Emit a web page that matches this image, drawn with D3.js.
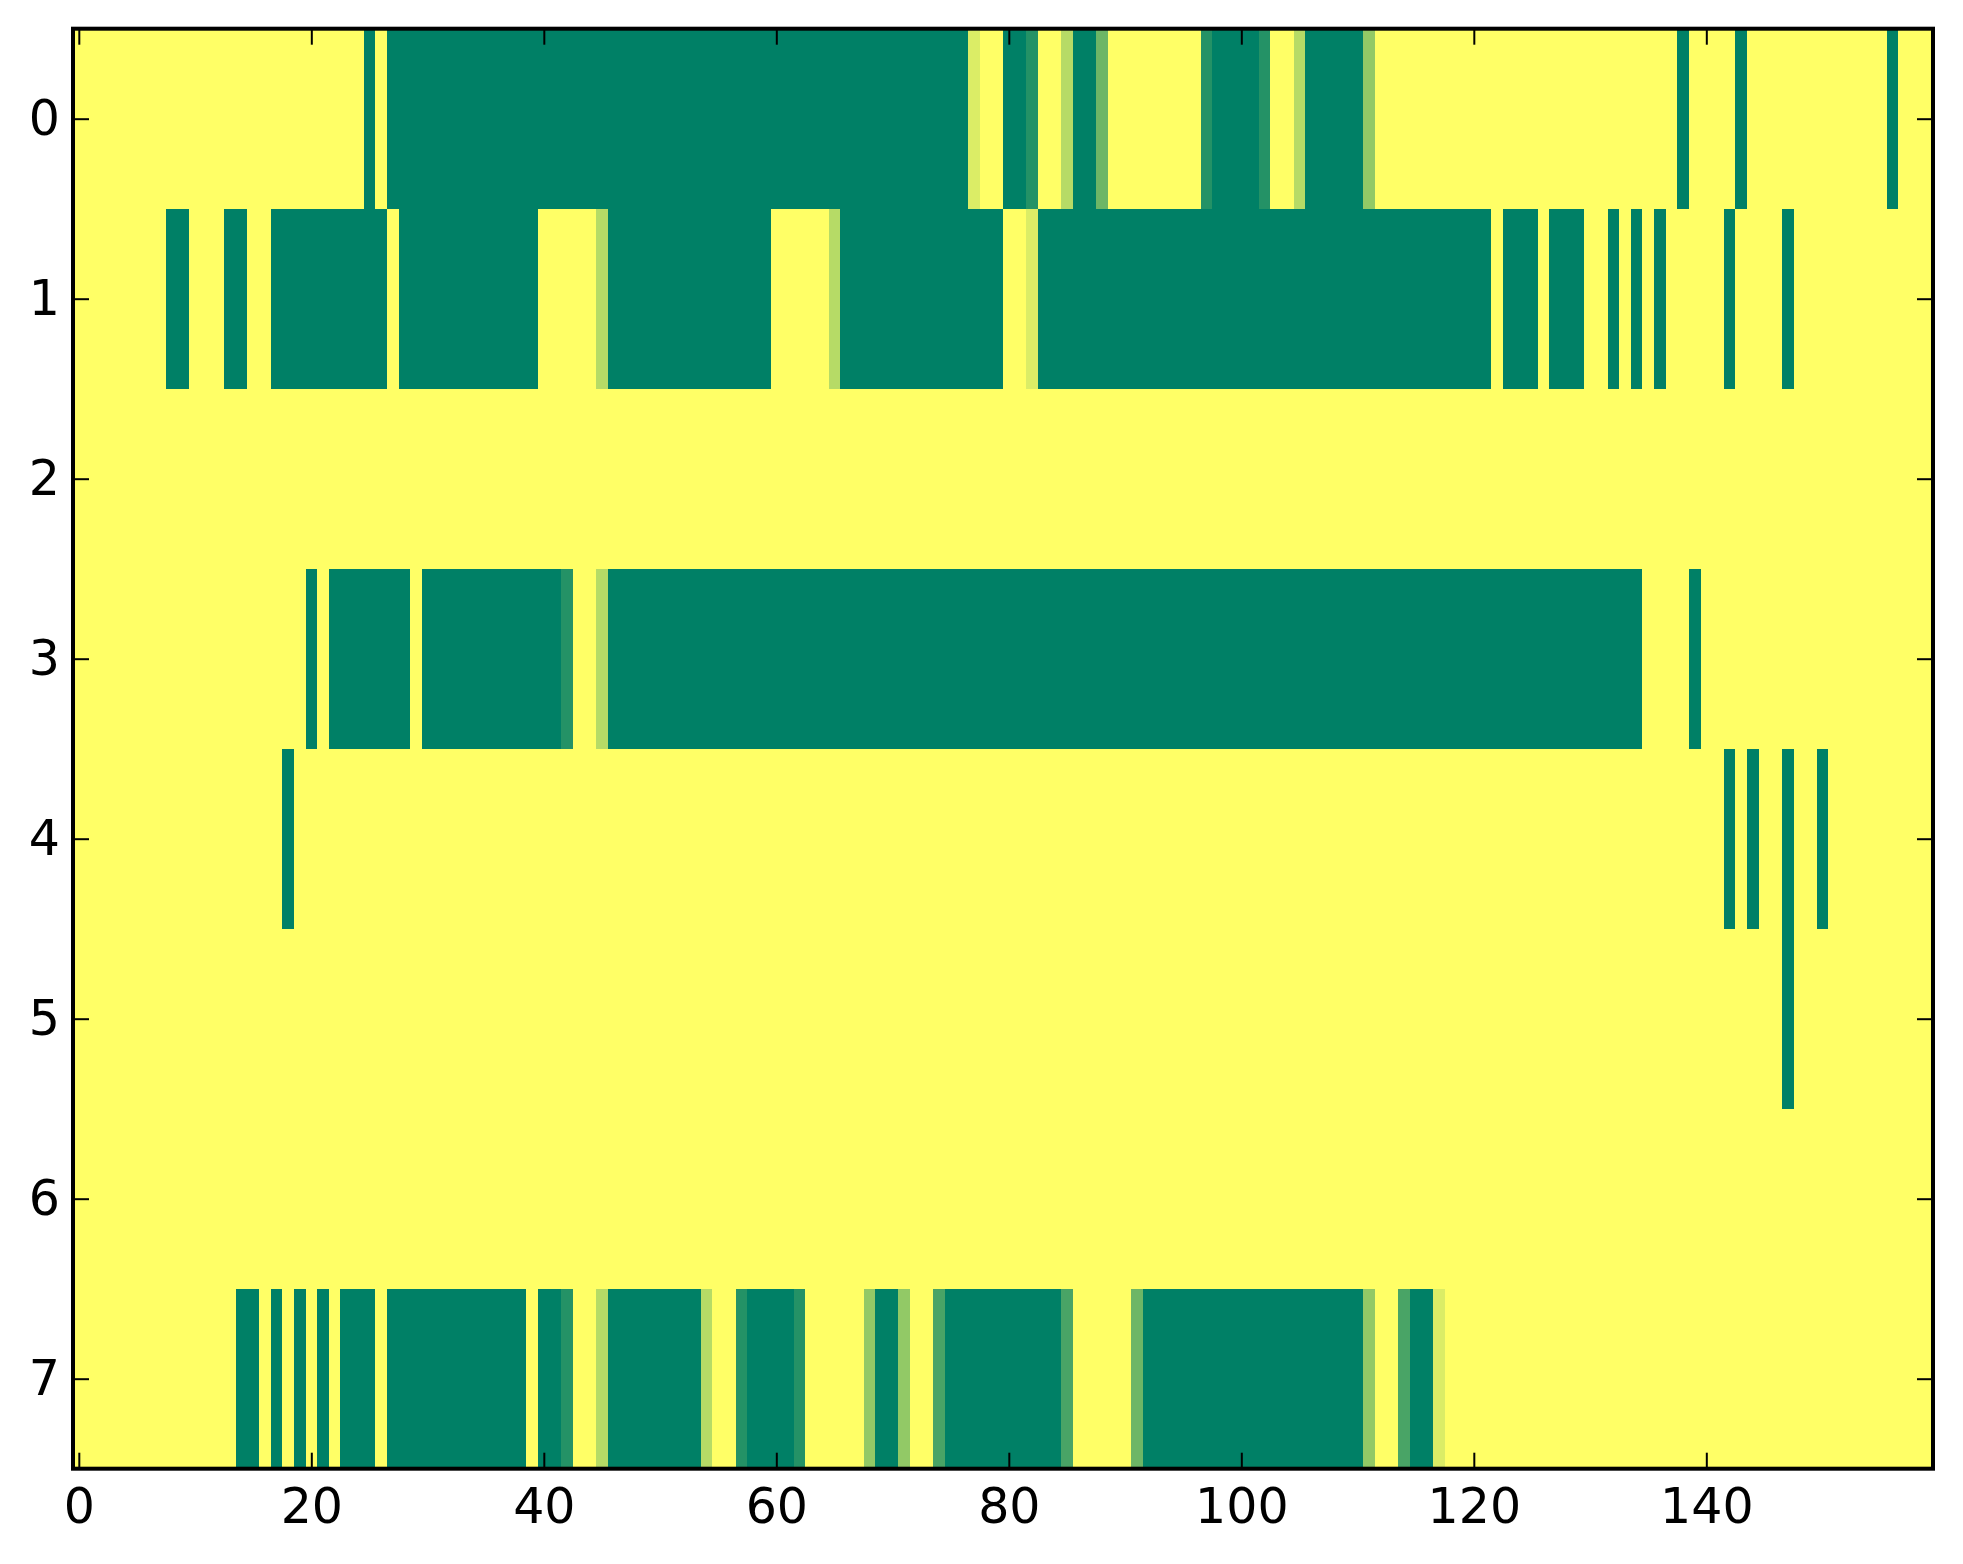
<!DOCTYPE html>
<html>
<head>
<meta charset="utf-8">
<script src="https://cdn.jsdelivr.net/npm/d3@7"></script>
<style>
  body { margin: 0; background: #fff; }
  svg { display: block; }
  .tick text { font-family: "DejaVu Sans", sans-serif; font-size: 49px; fill: #000; }
  .tick line { stroke: #000; stroke-width: 2; }
</style>
</head>
<body>
<div id="chart"></div>
<script>
// cell levels 0..7 (0 = low / green, 7 = high / yellow), one array per row, 160 columns
var row0 = [
  7,7,7,7,7,7,7,7,7,7,7,7,7,7,7,7,7,7,7,7,
  7,7,7,7,7,0,7,0,0,0,0,0,0,0,0,0,0,0,0,0,
  0,0,0,0,0,0,0,0,0,0,0,0,0,0,0,0,0,0,0,0,
  0,0,0,0,0,0,0,0,0,0,0,0,0,0,0,0,0,6,7,7,
  0,0,1,7,7,5,0,0,3,7,7,7,7,7,7,7,7,1,0,0,
  0,0,1,7,7,5,0,0,0,0,0,4,7,7,7,7,7,7,7,7,
  7,7,7,7,7,7,7,7,7,7,7,7,7,7,7,7,7,7,0,7,
  7,7,7,0,7,7,7,7,7,7,7,7,7,7,7,7,0,7,7,7
];
var row1 = [
  7,7,7,7,7,7,7,7,0,0,7,7,7,0,0,7,7,0,0,0,
  0,0,0,0,0,0,0,7,0,0,0,0,0,0,0,0,0,0,0,0,
  7,7,7,7,7,5,0,0,0,0,0,0,0,0,0,0,0,0,0,0,
  7,7,7,7,7,5,0,0,0,0,0,0,0,0,0,0,0,0,0,0,
  7,7,6,0,0,0,0,0,0,0,0,0,0,0,0,0,0,0,0,0,
  0,0,0,0,0,0,0,0,0,0,0,0,0,0,0,0,0,0,0,0,
  0,0,7,0,0,0,7,0,0,0,7,7,0,7,0,7,0,7,7,7,
  7,7,0,7,7,7,7,0,7,7,7,7,7,7,7,7,7,7,7,7
];
var row2 = [
  7,7,7,7,7,7,7,7,7,7,7,7,7,7,7,7,7,7,7,7,
  7,7,7,7,7,7,7,7,7,7,7,7,7,7,7,7,7,7,7,7,
  7,7,7,7,7,7,7,7,7,7,7,7,7,7,7,7,7,7,7,7,
  7,7,7,7,7,7,7,7,7,7,7,7,7,7,7,7,7,7,7,7,
  7,7,7,7,7,7,7,7,7,7,7,7,7,7,7,7,7,7,7,7,
  7,7,7,7,7,7,7,7,7,7,7,7,7,7,7,7,7,7,7,7,
  7,7,7,7,7,7,7,7,7,7,7,7,7,7,7,7,7,7,7,7,
  7,7,7,7,7,7,7,7,7,7,7,7,7,7,7,7,7,7,7,7
];
var row3 = [
  7,7,7,7,7,7,7,7,7,7,7,7,7,7,7,7,7,7,7,7,
  0,7,0,0,0,0,0,0,0,7,0,0,0,0,0,0,0,0,0,0,
  0,0,1,7,7,5,0,0,0,0,0,0,0,0,0,0,0,0,0,0,
  0,0,0,0,0,0,0,0,0,0,0,0,0,0,0,0,0,0,0,0,
  0,0,0,0,0,0,0,0,0,0,0,0,0,0,0,0,0,0,0,0,
  0,0,0,0,0,0,0,0,0,0,0,0,0,0,0,0,0,0,0,0,
  0,0,0,0,0,0,0,0,0,0,0,0,0,0,0,7,7,7,7,0,
  7,7,7,7,7,7,7,7,7,7,7,7,7,7,7,7,7,7,7,7
];
var row4 = [
  7,7,7,7,7,7,7,7,7,7,7,7,7,7,7,7,7,7,0,7,
  7,7,7,7,7,7,7,7,7,7,7,7,7,7,7,7,7,7,7,7,
  7,7,7,7,7,7,7,7,7,7,7,7,7,7,7,7,7,7,7,7,
  7,7,7,7,7,7,7,7,7,7,7,7,7,7,7,7,7,7,7,7,
  7,7,7,7,7,7,7,7,7,7,7,7,7,7,7,7,7,7,7,7,
  7,7,7,7,7,7,7,7,7,7,7,7,7,7,7,7,7,7,7,7,
  7,7,7,7,7,7,7,7,7,7,7,7,7,7,7,7,7,7,7,7,
  7,7,0,7,0,7,7,0,7,7,0,7,7,7,7,7,7,7,7,7
];
var row5 = [
  7,7,7,7,7,7,7,7,7,7,7,7,7,7,7,7,7,7,7,7,
  7,7,7,7,7,7,7,7,7,7,7,7,7,7,7,7,7,7,7,7,
  7,7,7,7,7,7,7,7,7,7,7,7,7,7,7,7,7,7,7,7,
  7,7,7,7,7,7,7,7,7,7,7,7,7,7,7,7,7,7,7,7,
  7,7,7,7,7,7,7,7,7,7,7,7,7,7,7,7,7,7,7,7,
  7,7,7,7,7,7,7,7,7,7,7,7,7,7,7,7,7,7,7,7,
  7,7,7,7,7,7,7,7,7,7,7,7,7,7,7,7,7,7,7,7,
  7,7,7,7,7,7,7,0,7,7,7,7,7,7,7,7,7,7,7,7
];
var row6 = [
  7,7,7,7,7,7,7,7,7,7,7,7,7,7,7,7,7,7,7,7,
  7,7,7,7,7,7,7,7,7,7,7,7,7,7,7,7,7,7,7,7,
  7,7,7,7,7,7,7,7,7,7,7,7,7,7,7,7,7,7,7,7,
  7,7,7,7,7,7,7,7,7,7,7,7,7,7,7,7,7,7,7,7,
  7,7,7,7,7,7,7,7,7,7,7,7,7,7,7,7,7,7,7,7,
  7,7,7,7,7,7,7,7,7,7,7,7,7,7,7,7,7,7,7,7,
  7,7,7,7,7,7,7,7,7,7,7,7,7,7,7,7,7,7,7,7,
  7,7,7,7,7,7,7,7,7,7,7,7,7,7,7,7,7,7,7,7
];
var row7 = [
  7,7,7,7,7,7,7,7,7,7,7,7,7,7,0,0,7,0,7,0,
  7,0,7,0,0,0,7,0,0,0,0,0,0,0,0,0,0,0,0,7,
  0,0,1,7,7,5,0,0,0,0,0,0,0,0,5,7,7,1,0,0,
  0,0,1,7,7,7,7,7,4,0,0,4,7,7,2,0,0,0,0,0,
  0,0,0,0,0,2,7,7,7,7,7,3,0,0,0,0,0,0,0,0,
  0,0,0,0,0,0,0,0,0,0,0,4,7,7,2,0,0,6,7,7,
  7,7,7,7,7,7,7,7,7,7,7,7,7,7,7,7,7,7,7,7,
  7,7,7,7,7,7,7,7,7,7,7,7,7,7,7,7,7,7,7,7
];
var rows = [row0, row1, row2, row3, row4, row5, row6, row7];
var xTicks = [0, 20, 40, 60, 80, 100, 120, 140];
var yTicks = [0, 1, 2, 3, 4, 5, 6, 7];

// figure / axes box
var W = 1963, H = 1564;
var margin = {left: 73, right: 1933, top: 28.7, bottom: 1468.7};
var nCols = row0.length, nRows = rows.length;

var x = d3.scaleLinear().domain([-0.5, nCols - 0.5]).range([margin.left, margin.right]);
var y = d3.scaleLinear().domain([-0.5, nRows - 0.5]).range([margin.top, margin.bottom]);
// "summer" colormap
var color = d3.scaleLinear().domain([0, 7]).range(["#008066", "#ffff66"]).interpolate(d3.interpolateRgb);

var svg = d3.select("#chart").append("svg")
  .attr("width", W)
  .attr("height", H);

var cells = [];
rows.forEach(function (r, i) {
  r.forEach(function (v, j) { cells.push({row: i, col: j, v: v}); });
});

svg.append("g")
  .attr("shape-rendering", "crispEdges")
  .selectAll("rect")
  .data(cells)
  .enter().append("rect")
  .attr("x", function (d) { return x(d.col - 0.5); })
  .attr("y", function (d) { return y(d.row - 0.5); })
  .attr("width", function (d) { return x(d.col + 0.5) - x(d.col - 0.5) + 0.5; })
  .attr("height", function (d) { return y(d.row + 0.5) - y(d.row - 0.5) + 0.5; })
  .attr("fill", function (d) { return color(d.v); });

// axes, ticks pointing inward on all four sides
var tick = 16;
svg.append("g")
  .attr("transform", "translate(0," + margin.bottom + ")")
  .call(d3.axisBottom(x).tickValues(xTicks).tickSize(-tick).tickSizeOuter(0).tickPadding(20));
svg.append("g")
  .attr("transform", "translate(0," + margin.top + ")")
  .call(d3.axisTop(x).tickValues(xTicks).tickSize(-tick).tickSizeOuter(0).tickFormat(""));
svg.append("g")
  .attr("transform", "translate(" + margin.left + ",0)")
  .call(d3.axisLeft(y).tickValues(yTicks).tickSize(-tick).tickSizeOuter(0).tickPadding(13));
svg.append("g")
  .attr("transform", "translate(" + margin.right + ",0)")
  .call(d3.axisRight(y).tickValues(yTicks).tickSize(-tick).tickSizeOuter(0).tickFormat(""));

svg.selectAll(".domain").remove();

// frame
svg.append("rect")
  .attr("x", margin.left)
  .attr("y", margin.top)
  .attr("width", margin.right - margin.left)
  .attr("height", margin.bottom - margin.top)
  .attr("fill", "none")
  .attr("stroke", "#000")
  .attr("stroke-width", 4);
</script>
</body>
</html>
